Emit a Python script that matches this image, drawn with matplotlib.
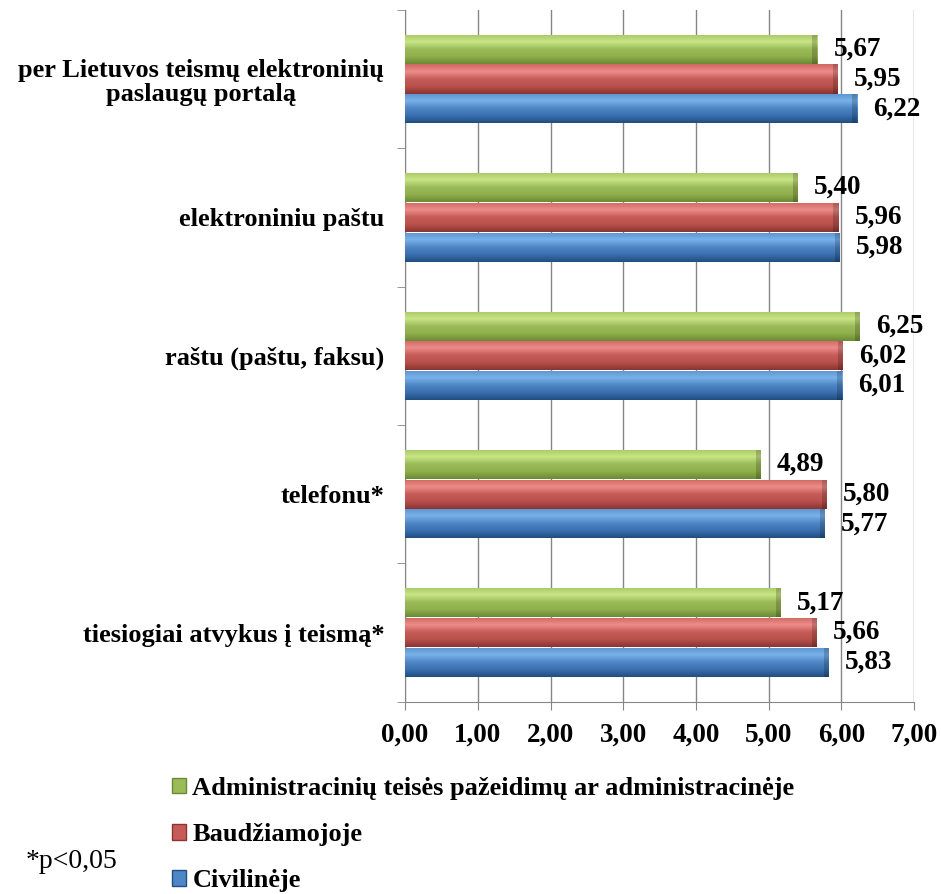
import numpy as np
import matplotlib
matplotlib.use("Agg")
import matplotlib.pyplot as plt
from matplotlib.colors import LinearSegmentedColormap
from matplotlib.patches import Patch

# data (bottom to top, as drawn)
categories = [
    "tiesiogiai atvykus į teismą*",
    "telefonu*",
    "raštu (paštu, faksu)",
    "elektroniniu paštu",
    "per Lietuvos teismų elektroninių\npaslaugų portalą",
]
civiline = [5.83, 5.77, 6.01, 5.98, 6.22]
baudziamoji = [5.66, 5.80, 6.02, 5.96, 5.95]
administracine = [5.17, 4.89, 6.25, 5.40, 5.67]
xticks = [0, 1, 2, 3, 4, 5, 6, 7]

series = [
    ("Civilinėje", civiline, ["#1f4e80", "#3a70b0", "#4f86c6", "#79b2ea", "#5d92cf"]),
    ("Baudžiamojoje", baudziamoji, ["#8a3532", "#b8504c", "#c65c58", "#ec8d8a", "#d06764"]),
    ("Administracinių teisės pažeidimų ar administracinėje", administracine,
     ["#6b8a33", "#8fb04c", "#9bbb59", "#c9e585", "#a8c765"]),
]

plt.rcParams['font.family'] = ['Liberation Serif', 'DejaVu Serif']
plt.rcParams['font.weight'] = 'bold'
FS = 19

fig = plt.figure(figsize=(9.41, 8.94), dpi=100)
ax = fig.add_axes([0.4305, 0.215, 0.541, 0.774])

y = np.arange(len(categories))
h = 0.21
offsets = [-0.215, 0.0, 0.215]
grad = np.linspace(0, 1, 64).reshape(-1, 1)

for (name, vals, cols), off in zip(series, offsets):
    cmap = LinearSegmentedColormap.from_list(name, cols)
    bars = ax.barh(y + off, vals, height=h, color=cols[2], edgecolor='none', zorder=2)
    for b, v in zip(bars, vals):
        x0, y0 = b.get_x(), b.get_y()
        im = ax.imshow(grad, extent=[x0, x0 + b.get_width(), y0, y0 + b.get_height()],
                       origin='lower', aspect='auto', cmap=cmap, zorder=3)
        im.set_clip_path(b)
        # darker bevel at the bar end
        ax.barh(y0 + b.get_height() / 2, 0.07, left=v - 0.07, height=b.get_height(),
                color='black', alpha=0.18, edgecolor='none', zorder=3.5)
        ax.text(v + 0.22, y0 + b.get_height() / 2, f"{v:.2f}".replace('.', ','),
                va='center', ha='left', fontsize=FS + 0.5, fontweight='bold', zorder=4)

ax.set_xlim(0, 7)
ax.set_ylim(-0.5, len(categories) - 0.5)
ax.set_xticks(xticks)
ax.set_xticklabels([f"{t:.2f}".replace('.', ',') for t in xticks], fontsize=FS + 0.5,
                   fontweight='bold')
ax.set_yticks(y)
ax.set_yticklabels(categories, fontsize=FS, fontweight='bold', multialignment='center',
                   linespacing=1.1)
ax.tick_params(axis='y', length=0, pad=15)
ax.set_yticks(np.arange(-0.5, len(categories)), minor=True)
ax.tick_params(axis='y', which='minor', length=6, color='#868686')
ax.tick_params(axis='x', length=6, color='#868686', pad=9)

ax.grid(axis='x', color='#868686', linewidth=1, zorder=0)
ax.set_axisbelow(True)
for s in ['top', 'right']:
    ax.spines[s].set_visible(False)
for s in ['left', 'bottom']:
    ax.spines[s].set_color('#868686')

handles = [Patch(facecolor=s[2][2], edgecolor=s[2][0], label=s[0]) for s in series[::-1]]
fig.legend(handles=handles, loc='upper left', bbox_to_anchor=(0.183, 0.131), frameon=False,
           prop={'size': FS, 'weight': 'bold'}, handlelength=0.53, handleheight=0.53,
           handletextpad=0.23, labelspacing=0.88, borderpad=0, borderaxespad=0)

fig.text(0.027, 1 - 861 / 894, "*p<0,05", fontsize=20, fontweight='normal', va='center')

plt.savefig('out.png', dpi=100)
